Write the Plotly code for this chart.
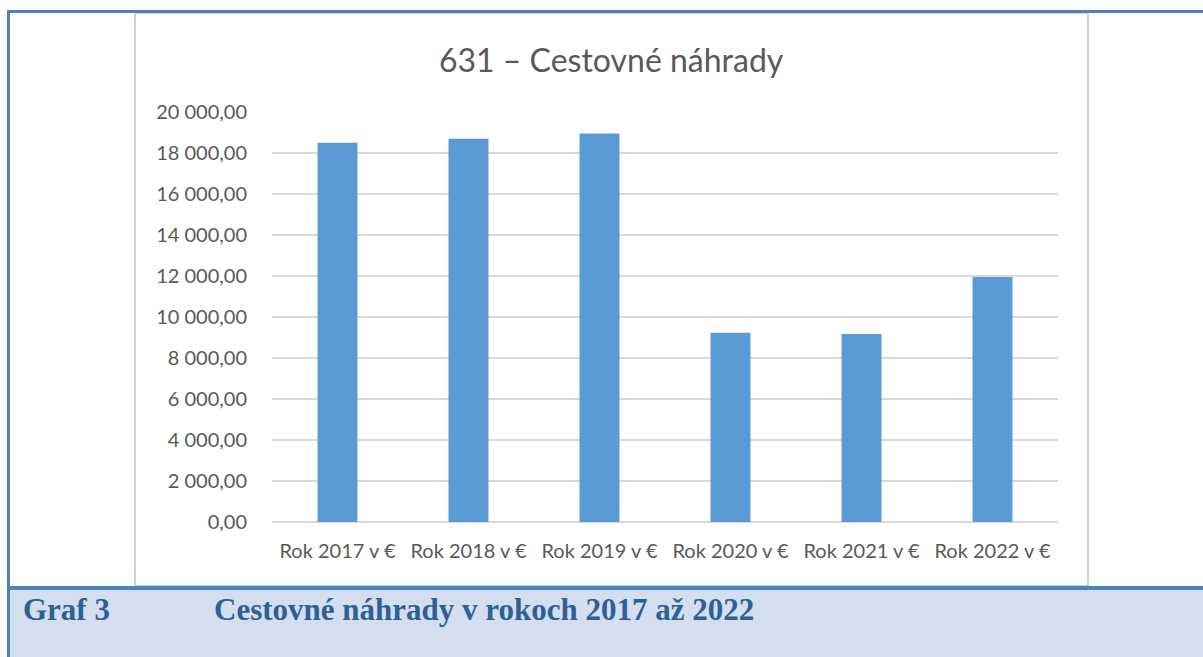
import plotly.graph_objects as go

# ---- data ----
categories = ["Rok 2017 v €", "Rok 2018 v €", "Rok 2019 v €",
              "Rok 2020 v €", "Rok 2021 v €", "Rok 2022 v €"]
values = [18500, 18700, 18950, 9230, 9170, 11950]
y_ticks = [0, 2000, 4000, 6000, 8000, 10000, 12000, 14000, 16000, 18000, 20000]

chart_title = "631 – Cestovné náhrady"
caption_label = "Graf 3"
caption_text = "Cestovné náhrady v rokoch 2017 až 2022"

# ---- layout geometry (pixels) ----
W, H = 1203, 657
PL, PR, PT, PB = 272, 1058, 112, 522  # plot area edges


def px(x):
    return (x - PL) / (PR - PL)


def py(y):
    return (PB - y) / (PB - PT)


BLUE = "#4F81BD"
BAND = "#D3DFEE"
CAP_COLOR = "#2F5F94"
GREY_TXT = "#595959"
GRID = "#D9D9D9"

fig = go.Figure(go.Bar(
    x=categories, y=values,
    marker=dict(color="#5B9BD5", line=dict(width=0)),
    hoverinfo="x+y",
))

shapes = [
    # caption band
    dict(type="rect", xref="paper", yref="paper", layer="below",
         x0=px(10), x1=px(W + 5), y0=py(590), y1=py(H + 5),
         fillcolor=BAND, line=dict(width=0)),
    # chart box
    dict(type="rect", xref="paper", yref="paper", layer="below",
         x0=px(135), x1=px(1088), y0=py(586), y1=py(13),
         fillcolor="white", line=dict(color="#D0D0D0", width=2)),
    # frame top line
    dict(type="rect", xref="paper", yref="paper", layer="below",
         x0=px(7), x1=px(W + 5), y0=py(13), y1=py(10),
         fillcolor=BLUE, line=dict(width=0)),
    # frame left line
    dict(type="rect", xref="paper", yref="paper", layer="below",
         x0=px(7), x1=px(10), y0=py(H + 5), y1=py(10),
         fillcolor=BLUE, line=dict(width=0)),
    # caption separator line
    dict(type="rect", xref="paper", yref="paper", layer="below",
         x0=px(7), x1=px(W + 5), y0=py(590), y1=py(586),
         fillcolor=BLUE, line=dict(width=0)),
]

annotations = [
    dict(text=chart_title, xref="paper", yref="paper",
         x=px(611), y=py(59), xanchor="center", yanchor="middle",
         showarrow=False, font=dict(family="Lato", size=32, color=GREY_TXT)),
    dict(text="<b>" + caption_label + "</b>", xref="paper", yref="paper",
         x=px(21), y=py(609), xanchor="left", yanchor="middle",
         showarrow=False,
         font=dict(family="Liberation Serif", size=31, color=CAP_COLOR)),
    dict(text="<b>" + caption_text + "</b>", xref="paper", yref="paper",
         x=px(212), y=py(609), xanchor="left", yanchor="middle",
         showarrow=False,
         font=dict(family="Liberation Serif", size=31, color=CAP_COLOR)),
]

fig.update_layout(
    width=W, height=H,
    margin=dict(l=PL, r=W - PR, t=PT, b=H - PB, pad=0),
    paper_bgcolor="white",
    plot_bgcolor="rgba(0,0,0,0)",
    separators=", ",
    bargap=0.695,
    showlegend=False,
    shapes=shapes,
    annotations=annotations,
    font=dict(family="Lato", size=20, color=GREY_TXT),
    xaxis=dict(
        type="category", showgrid=False, showline=False, ticks="",
        tickfont=dict(family="Lato", size=20, color=GREY_TXT),
        ticklabelstandoff=15,
    ),
    yaxis=dict(
        range=[0, 20000], tickvals=y_ticks, tickformat=",.2f",
        showgrid=True, gridcolor=GRID, gridwidth=1.5,
        zeroline=True, zerolinecolor=GRID, zerolinewidth=1.5,
        showline=False, ticks="",
        tickfont=dict(family="Lato", size=20, color=GREY_TXT),
        ticklabelstandoff=24,
    ),
)

fig.write_html("out.html")
